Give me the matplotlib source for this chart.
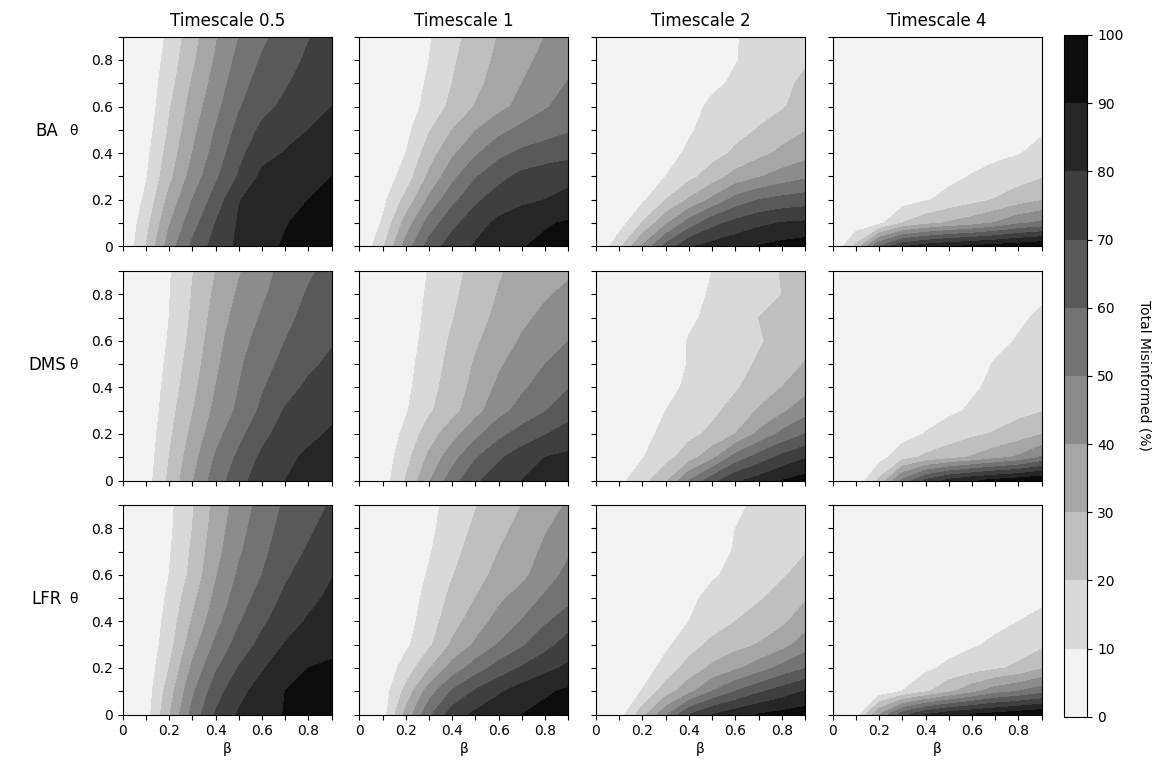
import numpy as np
import matplotlib
matplotlib.use("Agg")
import matplotlib.pyplot as plt
from matplotlib.ticker import FixedLocator, FixedFormatter

beta = [0.0, 0.1, 0.2, 0.3, 0.4, 0.5, 0.6, 0.7, 0.8, 0.9]
theta = [0.0, 0.1, 0.2, 0.3, 0.4, 0.5, 0.6, 0.7, 0.8, 0.9]
timescales = ["0.5", "1", "2", "4"]
networks = ["BA", "DMS", "LFR"]
levels = [0, 10, 20, 30, 40, 50, 60, 70, 80, 90, 100]

# rows: theta 0 .. 0.9 ; columns: beta 0 .. 0.9
ba_05 = [
    [0, 20, 45, 62, 74, 82, 87, 91, 94, 96],
    [0, 16, 39, 56, 70, 81, 86, 89.5, 92.5, 95],
    [0, 12, 33, 50, 64, 79.5, 84, 87.5, 90, 92.5],
    [0, 9, 27, 44, 58, 71, 82, 85, 88, 90],
    [0, 7, 24, 40, 54, 67, 77, 80.5, 84, 87],
    [0, 5, 21, 37, 50.5, 63, 72, 77, 80, 83.5],
    [0, 3, 19, 34, 47, 59, 67, 72, 76, 80],
    [0, 3, 16, 31, 44, 56, 64, 69, 74, 78],
    [0, 2, 14, 28, 41, 53, 61, 66.5, 71.5, 76],
    [0, 2, 12, 26, 39, 50, 58, 64, 69.5, 74],
]
ba_1 = [
    [0, 18, 44, 64, 75, 81, 85, 89.5, 92, 94],
    [0, 11, 34, 54, 67, 76, 82, 86.5, 89, 91],
    [0, 7, 23, 42, 57, 68, 74.5, 77.5, 80, 82],
    [0, 4, 14, 32, 47, 59, 67, 72.5, 75.5, 78],
    [0, 3, 10, 25, 38, 48.5, 57, 62, 64.5, 66.5],
    [0, 2, 7, 19, 30, 39.5, 47, 52.5, 56, 59],
    [0, 1, 4.5, 13.5, 22.5, 30.5, 37, 43, 49, 54],
    [0, 1, 4, 11.5, 20, 27.5, 34, 40, 45.5, 50.5],
    [0, 0.5, 3.5, 10, 18.5, 25.5, 32, 37.5, 42.5, 47],
    [0, 0.5, 3, 9, 17, 24, 30.5, 35.5, 40, 44],
]
ba_2 = [
    [0, 17, 41, 63, 78.5, 83.5, 87, 90.5, 93, 95],
    [0, 5, 20.5, 38, 54, 66.5, 73, 77.5, 80.5, 81.5],
    [0, 2, 8, 20, 31, 42, 53.5, 60, 63, 65],
    [0, 1, 4, 10, 17, 24.5, 33.5, 39, 44, 48],
    [0, 0.5, 2, 6.5, 11.5, 16.5, 21.5, 27, 32, 36],
    [0, 0.5, 1.5, 4.5, 9, 13, 17, 20.5, 25.5, 29.5],
    [0, 0, 1, 3, 6.5, 12, 15, 17, 19, 24],
    [0, 0, 1, 2, 4.5, 8, 11.5, 14.5, 18, 21.5],
    [0, 0, 0.5, 1.5, 3.5, 6, 9.5, 13, 16, 19],
    [0, 0, 0.5, 1.5, 3.5, 6, 9.5, 12.5, 15, 17],
]
ba_4 = [
    [0, 22, 60, 78, 85, 89, 91.5, 94, 96.5, 99],
    [0, 3, 7, 20, 26.5, 31, 35, 40.5, 48, 52],
    [0, 1, 3, 5.5, 9, 13, 16.5, 20.5, 25, 29],
    [0, 0.5, 1.5, 3, 5, 7.5, 10.5, 13, 16, 19],
    [0, 0, 1, 2, 3.5, 5, 6.5, 8, 9.5, 12.5],
    [0, 0, 0.5, 1.5, 2.5, 3.5, 4.5, 6, 7.5, 9],
    [0, 0, 0.5, 1, 2, 3, 4, 5, 6, 7],
    [0, 0, 0, 1, 1.5, 2, 3, 4, 5, 6],
    [0, 0, 0, 0.5, 1, 1.5, 2.5, 3.5, 4, 5],
    [0, 0, 0, 0.5, 1, 1.5, 2, 3, 3.5, 4],
]
dms_05 = [
    [0, 5, 22, 39, 55, 66, 76, 80, 83, 86],
    [0, 4, 20, 36, 51, 62, 72, 78, 81.5, 84],
    [0, 3, 18, 32.5, 46.5, 57, 67, 74.5, 78, 81],
    [0, 2, 16, 29.5, 42.5, 52, 62, 71, 75, 78],
    [0, 2, 14, 27, 40, 50, 59, 66, 72, 75],
    [0, 1.5, 12.5, 25, 38, 48.5, 56, 63, 68, 72],
    [0, 1, 11, 23, 36, 47, 53, 60, 65, 69],
    [0, 1, 10, 21.5, 34, 44, 51, 57.5, 63, 67],
    [0, 0.5, 9.5, 20.5, 32, 41.5, 48.5, 55, 61, 65],
    [0, 0.5, 9, 19.5, 30, 39, 46.5, 53, 58.5, 63],
]
dms_1 = [
    [0, 4.5, 20.5, 39, 55.5, 68.5, 74.5, 80, 83, 86],
    [0, 3.5, 16.5, 32, 46, 59, 68.5, 75, 80, 82],
    [0, 2.5, 12.5, 25, 36, 47, 57, 64, 69.5, 74],
    [0, 1.5, 9, 18.5, 26.5, 36.5, 46.5, 53.5, 59.5, 66],
    [0, 1, 7.5, 16.5, 24.5, 33, 42, 48.5, 54, 59.5],
    [0, 1, 6.5, 15, 23, 31, 38.5, 45, 50, 55],
    [0, 0.5, 5.5, 13.5, 21.5, 28.5, 35, 41, 45.5, 50],
    [0, 0, 4.5, 12.5, 19.5, 26, 32.5, 38, 42, 46],
    [0, 0, 4, 11.5, 18, 24.5, 30.5, 35.5, 39, 42],
    [0, 0, 3.5, 10.5, 17, 23, 29, 33, 36, 38.5],
]
dms_2 = [
    [0, 7, 16, 28, 50, 66, 78, 84, 90, 94],
    [0, 3, 9.5, 16.5, 25, 37, 54, 64, 72.5, 79],
    [0, 2, 7, 12.5, 17.5, 22, 30, 42, 52.5, 60],
    [0, 1, 4.5, 10, 14, 18, 23, 31, 38, 46],
    [0, 0.5, 3, 7.5, 11.5, 15.5, 19, 24, 30, 36],
    [0, 0.5, 2, 5.5, 10.5, 13.5, 17, 21, 25.5, 30.5],
    [0, 0, 1.5, 5, 10.5, 13, 16, 19, 23, 27],
    [0, 0, 1, 4, 8.5, 12, 15.5, 20, 22.5, 25],
    [0, 0, 1, 3, 7, 11, 14, 17, 20, 22],
    [0, 0, 0.5, 2.5, 6, 10, 13, 16.5, 20.5, 22],
]
dms_4 = [
    [0, 2, 22, 52, 72, 83, 89, 93, 96, 99],
    [0, 0.5, 6, 16, 22, 26.5, 31, 36.5, 41.5, 51],
    [0, 0, 2.5, 6, 10.5, 14, 18, 21, 25, 29.5],
    [0, 0, 1, 3, 5.5, 8.5, 11, 14, 17, 19.5],
    [0, 0, 0.5, 2, 4, 6.5, 9, 11.5, 14, 16.5],
    [0, 0, 0.5, 1.5, 3, 5, 7.5, 10.5, 12.5, 14.5],
    [0, 0, 0, 1, 2.5, 4, 6, 8, 10.5, 12.5],
    [0, 0, 0, 0.5, 2, 3, 4.5, 6.5, 9, 11],
    [0, 0, 0, 0.5, 1.5, 2.5, 3.5, 5, 7, 9],
    [0, 0, 0, 0, 1, 2, 3, 4, 5.5, 7],
]
lfr_05 = [
    [0, 5, 29, 53.5, 71, 81, 86, 90.5, 93.5, 96],
    [0, 4, 25, 48, 65.5, 77, 84, 90, 93, 95],
    [0, 3, 20, 42, 58.5, 70.5, 79, 85.5, 90, 92],
    [0, 2, 16, 36, 52, 64, 73, 80.5, 84, 86.5],
    [0, 1.5, 14, 31, 46.5, 59, 68, 76, 81, 84.5],
    [0, 1, 12, 27, 42.5, 55, 64, 72, 77.5, 82],
    [0, 1, 10, 23, 39, 51.5, 60, 68.5, 74.5, 79.5],
    [0, 0.5, 9, 21.5, 36.5, 48.5, 57.5, 66, 71, 76],
    [0, 0.5, 8, 20, 34.5, 46.5, 55.5, 63.5, 68.5, 73.5],
    [0, 0.5, 7.5, 19, 33, 44.5, 53.5, 61.5, 66, 71],
]
lfr_1 = [
    [0, 5, 33, 58, 75, 82, 87, 90, 93, 95],
    [0, 4, 23, 45, 61, 71, 78.5, 84.5, 88.5, 91.5],
    [0, 3, 14, 29, 44, 55, 64, 71, 77, 82],
    [0, 1.5, 8, 18, 31.5, 41.5, 50.5, 58.5, 66.5, 74],
    [0, 1, 6, 15, 26, 35, 43.5, 50.5, 58.5, 66],
    [0, 1, 5, 13, 22.5, 30, 38, 44, 51.5, 56.5],
    [0, 0.5, 4, 11, 19.5, 26, 33, 37.5, 45, 53],
    [0, 0, 3, 9, 17.5, 23.5, 30, 35, 42, 48.5],
    [0, 0, 2.5, 7.5, 15.5, 21.5, 27.5, 32.5, 39, 44.5],
    [0, 0, 2, 6.5, 14, 19.5, 25, 30, 36, 41],
]
lfr_2 = [
    [0, 5, 26, 48, 70, 80, 86, 90.5, 93, 95],
    [0, 2, 10.5, 25, 36.5, 50, 60, 68, 74.5, 80.5],
    [0, 1, 5, 13.5, 24, 32, 38, 45, 53, 59.5],
    [0, 0.5, 3, 8, 15.5, 22.5, 26.5, 30.5, 36, 45],
    [0, 0, 2, 6, 10, 15, 20, 24, 28, 35],
    [0, 0, 1.5, 4.5, 8, 12.5, 16, 19, 23, 29],
    [0, 0, 1, 3, 6, 9, 12, 15.5, 19, 23],
    [0, 0, 0.5, 2, 4.5, 7.5, 10.5, 14, 17, 19.5],
    [0, 0, 0.5, 1.5, 3.5, 6.5, 10, 13, 15.5, 17.5],
    [0, 0, 0, 1, 3, 5.5, 8.5, 11.5, 14, 16],
]
lfr_4 = [
    [0, 4, 40, 66, 80, 87, 90.5, 93.5, 96.5, 99],
    [0, 0.5, 3, 10, 18, 27.5, 36.5, 45.5, 50, 56],
    [0, 0, 1.5, 4, 8, 12, 15, 18.5, 22, 29],
    [0, 0, 0.5, 2, 4, 6.5, 9, 11.5, 14.5, 18],
    [0, 0, 0, 1, 2.5, 4, 6, 8, 10, 12],
    [0, 0, 0, 0.5, 1.5, 3, 4.5, 6, 7, 8.5],
    [0, 0, 0, 0.5, 1, 2, 3.5, 4.5, 5.5, 7],
    [0, 0, 0, 0, 1, 1.5, 2.5, 3.5, 4.5, 6],
    [0, 0, 0, 0, 0.5, 1, 2, 3, 4, 5],
    [0, 0, 0, 0, 0.5, 1, 1.5, 2.5, 3.5, 4],
]

grids = [
    [ba_05, ba_1, ba_2, ba_4],
    [dms_05, dms_1, dms_2, dms_4],
    [lfr_05, lfr_1, lfr_2, lfr_4],
]

W, H = 1156, 766
fig = plt.figure(figsize=(W / 100, H / 100), dpi=100)

col_left = [122.7, 359.3, 596.0, 832.7]
row_top = [36.7, 271.0, 505.0]
aw, ah = 209.0, 209.5

B, T = np.meshgrid(beta, theta)
major = [0, 0.2, 0.4, 0.6, 0.8]
minor = [0.1, 0.3, 0.5, 0.7, 0.9]
major_lbl = ["0", "0.2", "0.4", "0.6", "0.8"]

cs = None
for r in range(3):
    for c in range(4):
        ax = fig.add_axes([col_left[c] / W, 1 - (row_top[r] + ah) / H, aw / W, ah / H])
        Z = np.array(grids[r][c], dtype=float)
        cs = ax.contourf(B, T, Z, levels=levels, cmap="gray_r", vmin=0, vmax=100)
        ax.set_xlim(0, 0.9)
        ax.set_ylim(0, 0.9)
        for axis in (ax.xaxis, ax.yaxis):
            axis.set_major_locator(FixedLocator(major))
            axis.set_minor_locator(FixedLocator(minor))
        ax.tick_params(which="both", length=3.5, width=0.8, labelsize=10)
        if r == 2:
            ax.xaxis.set_major_formatter(FixedFormatter(major_lbl))
            ax.set_xlabel("β", fontsize=10, labelpad=3)
        else:
            ax.set_xticklabels([])
        if c == 0:
            ax.yaxis.set_major_formatter(FixedFormatter(major_lbl))
            ax.set_ylabel("θ", rotation=0, fontsize=10, ha="center", va="center")
            ax.yaxis.set_label_coords((73 - col_left[0]) / aw, 0.55)
            fig.text(47 / W, 1 - (row_top[r] + ah * 0.45) / H, networks[r],
                     fontsize=12, ha="center", va="center")
        else:
            ax.set_yticklabels([])
        if r == 0:
            ax.set_title("Timescale " + timescales[c], fontsize=12, pad=8)

cax = fig.add_axes([1064 / W, 1 - 716.7 / H, 23.3 / W, 681.7 / H])
cb = fig.colorbar(cs, cax=cax, ticks=levels)
cb.ax.tick_params(labelsize=10)
cb.set_label("Total Misinformed (%)", rotation=270, fontsize=10, labelpad=20)

fig.savefig("out.png", dpi=100)
